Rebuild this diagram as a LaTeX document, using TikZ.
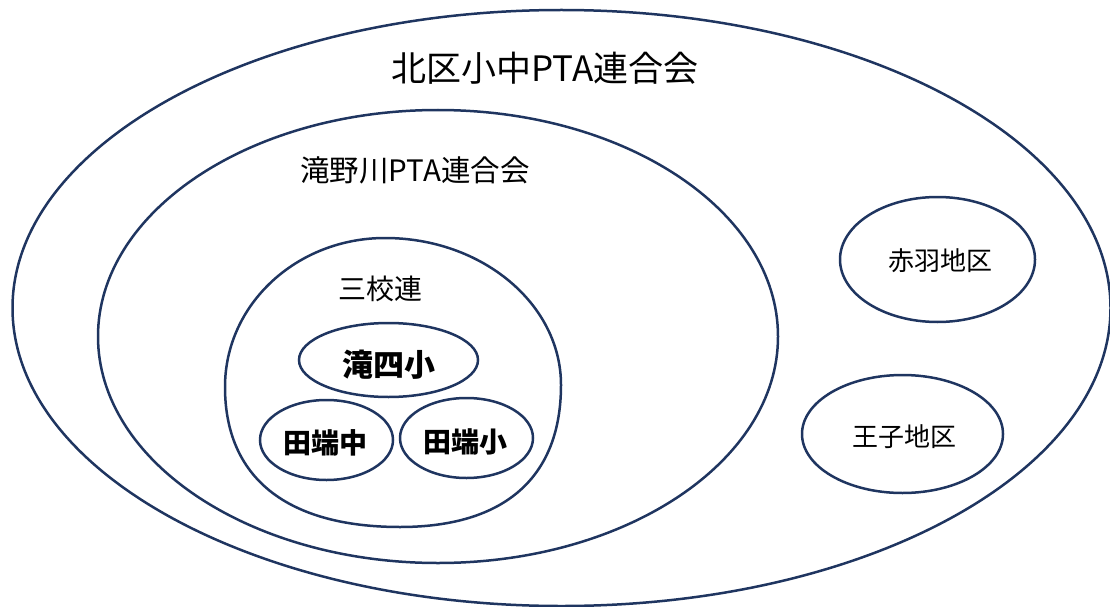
\documentclass[tikz,border=0pt]{standalone}
\usepackage{fontspec}
\setmainfont{Noto Sans CJK JP}
\usetikzlibrary{shapes.geometric}
\definecolor{navy}{HTML}{1F3560}
\tikzset{
  ring/.style={draw=navy, line width=2.5pt, ellipse, inner sep=0pt, fill=none},
  ringline/.style={draw=navy, line width=2.5pt},
  lbl/.style={inner sep=0pt, text=black},
}
\begin{document}
\begin{tikzpicture}[x=1pt,y=-1pt]
\useasboundingbox (0,0) rectangle (1110,607);
% outer
\node[ring, minimum width=1098pt, minimum height=596pt] (kita) at (561.5,308) {};
\node[lbl, font=\fontsize{35}{40}\selectfont] (kitaL) at (545,68) {北区小中PTA連合会};
% second
\node[ring, minimum width=680pt, minimum height=453pt] (taki) at (438,336.5) {};
\node[lbl, font=\fontsize{29.5}{33}\selectfont] (takiL) at (415,170) {滝野川PTA連合会};
% third (slightly fuller at the bottom)
\coordinate (sT) at (385,238);
\coordinate (sR) at (561,385);
\coordinate (sB) at (400,527);
\coordinate (sL) at (225,387);
\draw[ringline] (sT) .. controls (482,238) and (561,304) .. (sR)
  .. controls (561,477) and (505,527) .. (sB)
  .. controls (286,527) and (225,477) .. (sL)
  .. controls (225,304) and (297,238) .. (sT) -- cycle;
\node[lbl, font=\fontsize{28}{32}\selectfont] (sanL) at (380,289) {三校連};
% schools
\node[ring, minimum width=179pt, minimum height=74pt] (t4) at (388.5,360) {};
\node[lbl, font=\fontsize{31}{35}\selectfont\bfseries] (t4L) at (388.5,365) {滝四小};
\node[ring, minimum width=133pt, minimum height=80pt] (tc) at (326.5,440) {};
\node[lbl, font=\fontsize{28}{32}\selectfont\bfseries] (tcL) at (325,443) {田端中};
\node[ring, minimum width=133pt, minimum height=80pt] (ts) at (466.5,438) {};
\node[lbl, font=\fontsize{28}{32}\selectfont\bfseries] (tsL) at (465.5,442) {田端小};
% districts
\node[ring, minimum width=195pt, minimum height=125pt] (aka) at (937.5,259.5) {};
\node[lbl, font=\fontsize{26}{30}\selectfont] (akaL) at (940,261) {赤羽地区};
\node[ring, minimum width=201pt, minimum height=118pt] (oji) at (902.5,434) {};
\node[lbl, font=\fontsize{26}{30}\selectfont] (ojiL) at (904,437) {王子地区};
\end{tikzpicture}
\end{document}
